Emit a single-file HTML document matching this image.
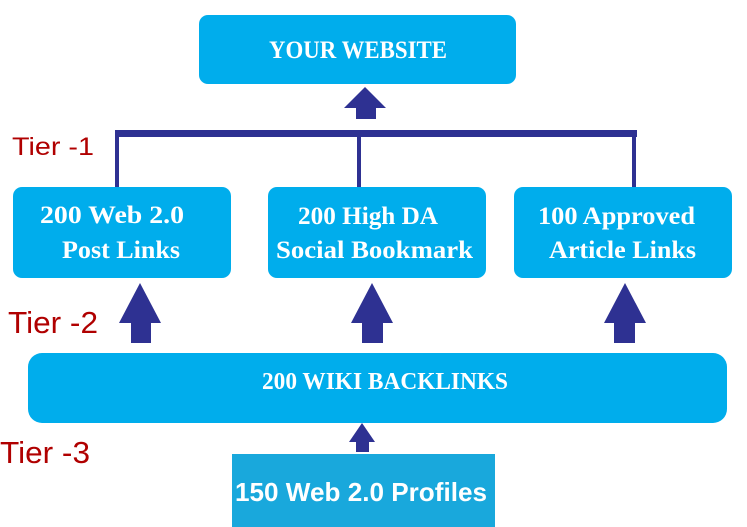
<!DOCTYPE html>
<html><head><meta charset="utf-8"><style>
html,body{margin:0;padding:0;background:#fff;}
svg{display:block;}
.b{font-family:"Liberation Serif",serif;font-weight:bold;fill:#fff;}
.t{font-family:"Liberation Sans",sans-serif;fill:#b00000;}
</style></head><body>
<svg width="747" height="527" viewBox="0 0 747 527" xmlns="http://www.w3.org/2000/svg">
<rect x="199" y="15" width="317" height="69" rx="9" fill="#00adec"/>
<text class="b" x="269" y="58" font-size="25" textLength="178" lengthAdjust="spacingAndGlyphs">YOUR WEBSITE</text>
<polygon points="365,87 386,108 376,108 376,119 356,119 356,108 344,108" fill="#2e3192"/>
<rect x="115" y="130" width="522" height="7" fill="#2e3192"/>
<rect x="115" y="130" width="4" height="58" fill="#2e3192"/>
<rect x="357" y="130" width="4" height="58" fill="#2e3192"/>
<rect x="632" y="130" width="4" height="58" fill="#2e3192"/>
<text class="t" x="12" y="155" font-size="25" textLength="82" lengthAdjust="spacingAndGlyphs">Tier -1</text>
<rect x="13" y="187" width="218" height="91" rx="9" fill="#00adec"/>
<rect x="268" y="187" width="218" height="91" rx="9" fill="#00adec"/>
<rect x="514" y="187" width="218" height="91" rx="9" fill="#00adec"/>
<text class="b" font-size="25"><tspan x="40" y="223" textLength="144" lengthAdjust="spacingAndGlyphs">200 Web 2.0</tspan><tspan x="62" y="258" textLength="118" lengthAdjust="spacingAndGlyphs">Post Links</tspan></text>
<text class="b" font-size="25"><tspan x="298" y="224" textLength="140" lengthAdjust="spacingAndGlyphs">200 High DA</tspan><tspan x="276" y="258" textLength="197" lengthAdjust="spacingAndGlyphs">Social Bookmark</tspan></text>
<text class="b" font-size="25"><tspan x="538" y="224" textLength="157" lengthAdjust="spacingAndGlyphs">100 Approved</tspan><tspan x="549" y="258" textLength="147" lengthAdjust="spacingAndGlyphs">Article Links</tspan></text>
<polygon points="140,283 161,323 151,323 151,343 131,343 131,323 119,323" fill="#2e3192"/>
<polygon points="372,283 393,323 383,323 383,343 362,343 362,323 351,323" fill="#2e3192"/>
<polygon points="625,283 646,323 635,323 635,343 614,343 614,323 604,323" fill="#2e3192"/>
<text class="t" x="8" y="333" font-size="31" textLength="90" lengthAdjust="spacingAndGlyphs">Tier -2</text>
<rect x="28" y="353" width="699" height="70" rx="14" fill="#00adec"/>
<text class="b" x="262" y="389" font-size="24" textLength="246" lengthAdjust="spacingAndGlyphs">200 WIKI BACKLINKS</text>
<polygon points="362,423 375,442 369,442 369,452 356,452 356,442 349,442" fill="#2e3192"/>
<text class="t" x="0" y="463" font-size="31" textLength="90" lengthAdjust="spacingAndGlyphs">Tier -3</text>
<rect x="232" y="454" width="263" height="73" fill="#19a8dc"/>
<text x="235" y="501" font-family="Liberation Sans,sans-serif" font-weight="bold" font-size="26" fill="#fff" textLength="252" lengthAdjust="spacingAndGlyphs">150 Web 2.0 Profiles</text>
</svg>
</body></html>
